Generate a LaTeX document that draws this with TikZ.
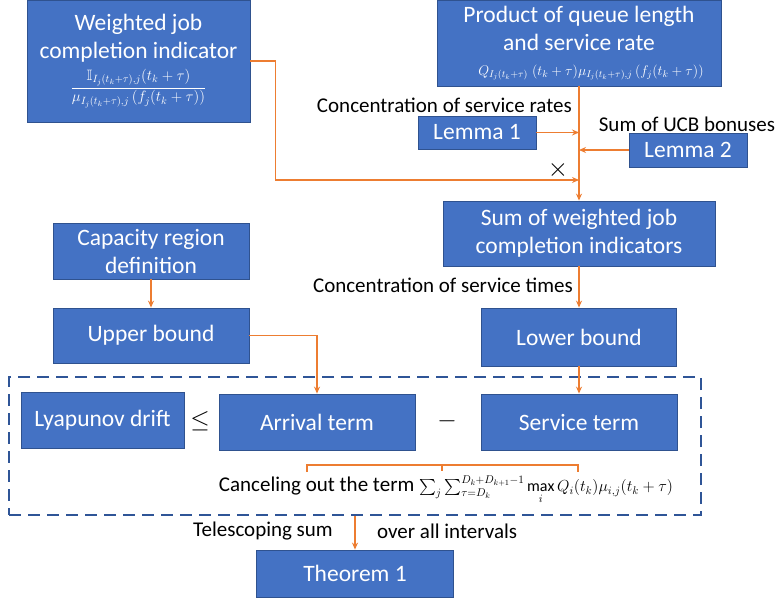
\documentclass[tikz,border=0pt]{standalone}
\usepackage{fix-cm}
\usepackage{amsmath,amssymb}
\usepackage{fontspec}
\setmainfont{Carlito}
\usetikzlibrary{arrows.meta}

\definecolor{boxblue}{HTML}{4472C4}
\definecolor{boxedge}{HTML}{2F528F}
\definecolor{lineorange}{HTML}{ED7D31}
\definecolor{dashblue}{HTML}{2F5597}

\tikzset{
    blk/.style={draw=boxedge, fill=boxblue, text=white, line width=0.8pt, align=center, inner sep=1pt, font=\fontsize{23.5}{28}\selectfont},
    flow/.style={draw=lineorange, line width=1.8pt, -{Stealth[length=7pt,width=6pt]}},
    lbl/.style={inner sep=0pt, font=\fontsize{21}{24}\selectfont},
}

\begin{document}
\begin{tikzpicture}[x=1pt, y=-1pt]
    \useasboundingbox (0,0) rectangle (778,600);
    % boxes
    \node[blk, minimum width=223, minimum height=122] (wjci) at (138.5,61) {Weighted job\\completion indicator\\[5pt]
        {\fontsize{15}{17}\selectfont $\displaystyle\frac{\mathbb{I}_{I_j(t_k+\tau),j}(t_k+\tau)}{\mu_{I_j(t_k+\tau),j}\left(f_j(t_k+\tau)\right)}$}};
    \node[blk, minimum width=284, minimum height=86] (prod) at (579,43) {Product of queue length\\and service rate\\[-3pt]
        {\fontsize{14}{16}\selectfont\hspace*{24pt}$Q_{I_j(t_k+\tau)}\;(t_k+\tau)\mu_{I_j(t_k+\tau),j}\left(f_j(t_k+\tau)\right)$}};
    \node[blk, minimum width=118, minimum height=33] (lemA) at (477,132.5) {Lemma 1};
    \node[blk, minimum width=118, minimum height=34] (lemB) at (688,150) {Lemma 2};
    \node[blk, minimum width=272, minimum height=65] (sumw) at (579,233.5) {Sum of weighted job\\completion indicators};
    \node[blk, minimum width=196, minimum height=56] (cap) at (151,251) {Capacity region\\definition};
    \node[blk, minimum width=196, minimum height=55] (upper) at (151,335.5) {Upper bound};
    \node[blk, minimum width=195, minimum height=58] (lower) at (579,337) {Lower bound};
    \node[draw=dashblue, dash pattern=on 12pt off 7pt, line width=1.8pt, minimum width=692, minimum height=138] (grp) at (355,446) {};
    \node[blk, minimum width=163, minimum height=56] (drift) at (102.5,420) {Lyapunov drift};
    \node[blk, minimum width=196, minimum height=56] (arr) at (317,422) {Arrival term};
    \node[blk, minimum width=196, minimum height=56] (serv) at (579,422) {Service term};
    \node[blk, minimum width=197, minimum height=47] (thm) at (355,573.5) {Theorem 1};

    % texts
    \node[lbl, anchor=east] (crate) at (572,105) {Concentration of service rates};
    \node[lbl] (ucb) at (687,124) {Sum of UCB bonuses};
    \node[lbl, anchor=east] (ctime) at (573,285) {Concentration of service times};
    \node[lbl, font=\fontsize{26}{28}\selectfont] (mul) at (558,170) {$\times$};
    \node[lbl, font=\fontsize{25}{27}\selectfont] (leq) at (200,421) {$\leq$};
    \node[lbl, font=\fontsize{25}{27}\selectfont] (minus) at (447,421) {$-$};
    \node[lbl] (cancel) at (446,490) {Canceling out the term
        {\fontsize{16}{18}\selectfont $\sum_j\sum_{\tau=D_k}^{D_k+D_{k+1}-1}\max\limits_i Q_i(t_k)\mu_{i,j}(t_k+\tau)$}};
    \node[lbl, anchor=east] (tele) at (333,531) {Telescoping sum};
    \node[lbl, anchor=west] (over) at (377,531) {over all intervals};

    % connectors
    \coordinate (mrg) at (579,180);
    \coordinate (brL) at (307,465);
    \coordinate (brR) at (578,465);
    \coordinate (brM) at (442,465);
    \draw[flow] (prod.south) -- (sumw.north);
    \draw[flow] (lemA.east) -- (lemA.east -| prod.south);
    \draw[flow] (lemB.west) -- (lemB.west -| prod.south);
    \draw[flow] (wjci.east) -- ++(25,0) |- (mrg);
    \draw[flow] (cap.south) -- (upper.north);
    \draw[flow] (sumw.south) -- (lower.north);
    \draw[flow] (upper.east) -| (arr.north);
    \draw[flow] (lower.south) -- (serv.north);
    \draw[draw=lineorange, line width=1.8pt] ([yshift=-7pt]brL) -- (brL) -- (brR) -- ([yshift=-7pt]brR);
    \draw[draw=lineorange, line width=1.8pt] (brM) -- ++(0,6);
    \draw[flow] (grp.south) -- (thm.north);
\end{tikzpicture}
\end{document}
